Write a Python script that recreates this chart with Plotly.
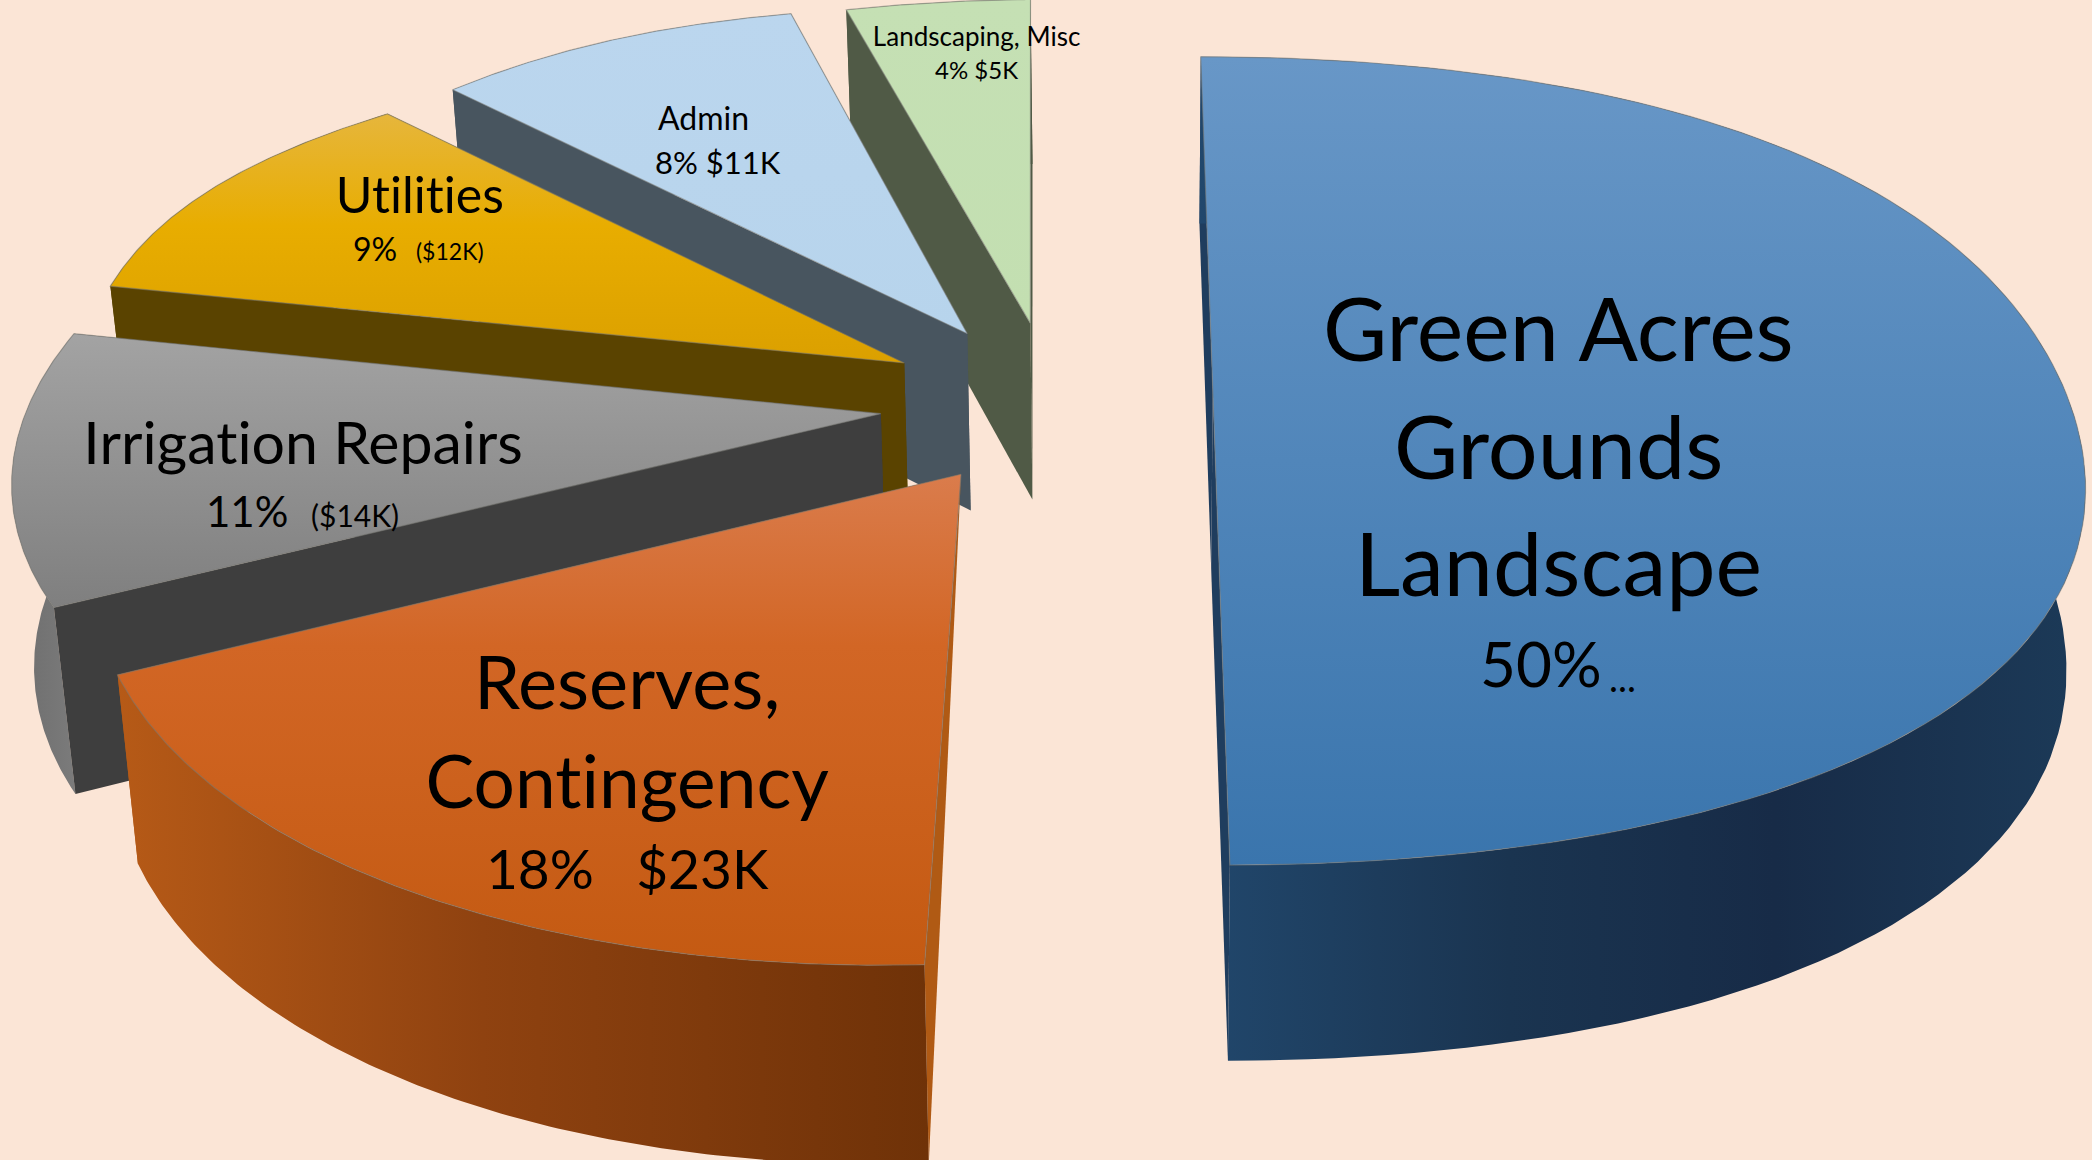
import numpy as np
import plotly.graph_objects as go

# ---- data ----
categories = ["Green Acres Grounds Landscape", "Reserves, Contingency", "Irrigation Repairs",
              "Utilities", "Admin", "Landscaping, Misc"]
percents = [50, 18, 11, 9, 8, 4]
dollars_k = [None, 23, 14, 12, 11, 5]

# ---- camera / styling (not data) ----
VX, VY = 849.0, -1375.0
K = 0.1767
CX, CY = 909.0, 292.0
A = 641.0
BG = "#fbe5d6"
W, H = 1568.0, 869.0

pulls = [(0.0, 0.0), (-0.287, 0.207), (-0.385, 0.060), (-0.364, -0.069), (-0.292, -0.146), (-0.217, -0.174)]
radii = [(0.996, 0.996), (0.955, 0.963), (0.966, 1.0), (1.005, 1.03), (1.03, 1.044), (1.03, 1.03)]
bulge = [0.03, 0.012, 0.0, 0.02, 0.012, 0.0]
nudges = [(0, 0), (0, -1.7), (-2.2, -2.5), (-2.5, -1.5), (-1.2, -1.3), (-1.4, -1.2)]
apex_drop = [1, 0, 1, 1, 1, 1]

top_grad = [
    [[0, "#3a75ad"], [1, "#6897c7"]],
    [[0, "#c45a12"], [0.65, "#d26625"], [1, "#da7c4c"]],
    [[0, "#7f7f7f"], [1, "#a3a3a3"]],
    [[0, "#dba000"], [0.55, "#e8ad00"], [1, "#e6b63c"]],
    [[0, "#b7d4ec"], [1, "#bbd6ee"]],
    [[0, "#c3dfb1"], [1, "#c5e0b4"]],
]
radial_wall = ["#1f3d5e", "#b05a14", "#3e3e3e", "#5a4300", "#48555f", "#505a46"]
arc_grad = [
    [[0, "#21476c"], [0.35, "#1a3450"], [0.65, "#172b47"], [1, "#1c3a58"]],
    [[0, "#b65a17"], [0.45, "#8f4210"], [1, "#6f3208"]],
    [[0, "#6c6c6c"], [1, "#808080"]],
    [[0, "#5a4300"], [1, "#5a4300"]],
    [[0, "#48555f"], [1, "#48555f"]],
    [[0, "#505a46"], [1, "#505a46"]],
]


def project(u, v):
    u, v = np.asarray(u, float), np.asarray(v, float)
    s = 1.0 / (1.0 - K * v)
    return VX + (CX - VX + A * u) * s, VY + (CY - VY) * s, s


def extrude(x, y, s):
    depth = 132 + (s - 0.97) * 60
    return VX + (x - VX) * 0.98, y + depth


def add_poly(fig, x, y, color=None, gradient=None, line=None):
    kw = dict(x=np.append(x, x[0]), y=np.append(y, y[0]), mode="lines", fill="toself",
              hoverinfo="skip", showlegend=False,
              line=dict(width=1.2 if line else 0, color=line or "rgba(0,0,0,0)"))
    if gradient is not None:
        kw["fillgradient"] = gradient
    else:
        kw["fillcolor"] = color
    fig.add_trace(go.Scatter(**kw))


fig = go.Figure()
bounds = np.concatenate([[0], np.cumsum(percents)]) / np.sum(percents) * 360.0

for i in reversed(range(len(percents))):
    a0 = bounds[i] + nudges[i][0]
    a1 = bounds[i + 1] + nudges[i][1]
    t = np.linspace(0, 1, 120)
    th = np.radians(a0 + (a1 - a0) * t)
    pu, pv = pulls[i]
    shape = np.sin(2 * np.pi * t) ** 2 if i == 0 else np.sin(np.pi * t)
    r = (radii[i][0] + (radii[i][1] - radii[i][0]) * t) * (1 + bulge[i] * shape)
    u = pu + r * np.sin(th)
    v = pv - r * np.cos(th)
    ax, ay, az = project(u, v)
    ex, ey = extrude(ax, ay, az)
    ox, oy, oz = project([pu], [pv])
    oex, oey = extrude(ox, oy, oz)
    if not apex_drop[i]:
        oex, oey = ox, oy

    walls = [
        (float(np.mean([oy[0], ay[0]])), np.array([ox[0], ax[0], ex[0], oex[0]]),
         np.array([oy[0], ay[0], ey[0], oey[0]]), radial_wall[i], None),
        (float(np.mean([oy[0], ay[-1]])), np.array([ox[0], ax[-1], ex[-1], oex[0]]),
         np.array([oy[0], ay[-1], ey[-1], oey[0]]), radial_wall[i], None),
        (float(np.mean(ay)), np.concatenate([ax, ex[::-1]]), np.concatenate([ay, ey[::-1]]),
         None, dict(type="horizontal", colorscale=arc_grad[i])),
    ]
    for _, wx, wy, col, grad in sorted(walls, key=lambda w: w[0]):
        add_poly(fig, wx, wy, color=col, gradient=grad)

    add_poly(fig, np.concatenate([[ox[0]], ax]), np.concatenate([[oy[0]], ay]),
             gradient=dict(type="vertical", colorscale=top_grad[i]),
             line="rgba(120,120,115,0.55)")

FONT = "Lato, Carlito, Calibri, sans-serif"
texts = [
    ("Green Acres", 1168, 245, 88), ("Grounds", 1168, 333, 88), ("Landscape", 1168, 421, 88),
    (f"{percents[0]}%", 1155, 497, 62), ("...", 1216, 507, 38),
    ("Reserves,", 470, 510, 74), ("Contingency", 470, 584, 73),
    (f"{percents[1]}%   ${dollars_k[1]}K", 470, 650, 55),
    (categories[2], 227, 331, 59), (f"{percents[2]}%", 185, 383, 42), (f"(${dollars_k[2]}K)", 266, 386, 30),
    (categories[3], 315, 145, 50), (f"{percents[3]}%", 281, 186, 32), (f"(${dollars_k[3]}K)", 337, 188, 23),
    (categories[4], 527, 88, 32), (f"{percents[4]}% ${dollars_k[4]}K", 538, 121, 31),
    (categories[5], 732, 27, 26), (f"{percents[5]}% ${dollars_k[5]}K", 732, 52, 24),
]
for txt, x, y, size in texts:
    fig.add_annotation(x=x, y=y, text=txt, showarrow=False, xanchor="center", yanchor="middle",
                       font=dict(family=FONT, size=size, color="#000000"))

fig.update_layout(
    width=2092, height=1160, margin=dict(l=0, r=0, t=0, b=0),
    paper_bgcolor=BG, plot_bgcolor=BG, showlegend=False,
    xaxis=dict(range=[0, W], visible=False, fixedrange=True),
    yaxis=dict(range=[H, 0], visible=False, fixedrange=True),
)
post = ("document.body.style.margin='0';document.documentElement.style.background='%s';"
        "var s=document.createElement('style');"
        "s.textContent='svg text, svg tspan{font-variant-ligatures:none !important;"
        "font-feature-settings:\"liga\" 0,\"clig\" 0 !important;letter-spacing:0.02px !important;}';"
        "document.head.appendChild(s);" % BG)
fig.write_html("out.html", post_script=post, config={"displayModeBar": False})
